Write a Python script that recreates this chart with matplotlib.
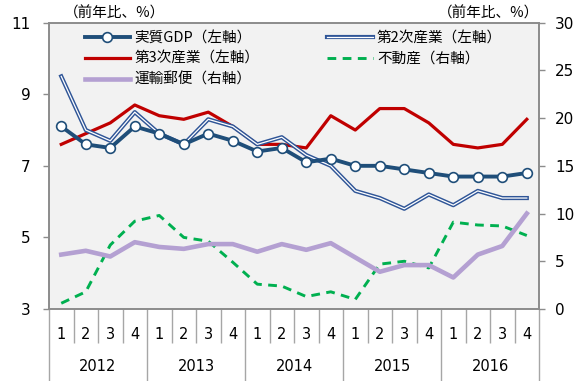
import matplotlib
matplotlib.use("Agg")
import matplotlib.pyplot as plt
import matplotlib.patheffects as pe

plt.rcParams['font.family'] = ['DejaVu Sans', 'Noto Sans CJK JP']
jp = ['Noto Sans CJK JP', 'DejaVu Sans']

years = ['2012', '2013', '2014', '2015', '2016']
quarters = ['1', '2', '3', '4']

# 左軸（前年比、%）
gdp = [8.1, 7.6, 7.5, 8.1, 7.9, 7.6, 7.9, 7.7, 7.4, 7.5,
       7.1, 7.2, 7.0, 7.0, 6.9, 6.8, 6.7, 6.7, 6.7, 6.8]
daini = [9.5, 8.0, 7.7, 8.5, 7.9, 7.6, 8.3, 8.1, 7.6, 7.8,
         7.3, 7.0, 6.3, 6.1, 5.8, 6.2, 5.9, 6.3, 6.1, 6.1]
daisan = [7.6, 7.9, 8.2, 8.7, 8.4, 8.3, 8.5, 8.1, 7.6, 7.6,
          7.5, 8.4, 8.0, 8.6, 8.6, 8.2, 7.6, 7.5, 7.6, 8.3]
# 右軸（前年比、%）
fudousan = [0.6, 1.8, 6.7, 9.2, 9.8, 7.5, 7.1, 4.9, 2.6, 2.4,
            1.3, 1.8, 1.0, 4.7, 5.0, 4.3, 9.1, 8.8, 8.7, 7.7]
unyu = [5.7, 6.1, 5.5, 7.0, 6.5, 6.3, 6.8, 6.8, 6.0, 6.8,
        6.2, 6.9, 5.4, 3.9, 4.6, 4.6, 3.3, 5.7, 6.6, 10.0]

n = len(gdp)
x = list(range(n))

fig = plt.figure(figsize=(5.82, 3.81), dpi=100)
ax = fig.add_axes([0.0842, 0.189, 0.8420, 0.7515])
ax2 = ax.twinx()

ax.set_facecolor('#f2f2f2')
ax2.patch.set_visible(False)

l_gdp, = ax.plot(x, gdp, color='#1f4e79', lw=2.8, marker='o', ms=7,
                 mfc='white', mec='#1f4e79', mew=1.2, label='実質GDP（左軸）', zorder=5)
l_2, = ax.plot(x, daini, color='white', lw=0.9, label='第2次産業（左軸）', zorder=4,
               path_effects=[pe.Stroke(linewidth=3.0, foreground='#2f5597'), pe.Normal()])
l_3, = ax.plot(x, daisan, color='#c00000', lw=2.3, label='第3次産業（左軸）', zorder=3)

l_f, = ax2.plot(x, fudousan, color='#00b050', lw=2.1, ls=(0, (3, 2.2)), label='不動産（右軸）')
l_u, = ax2.plot(x, unyu, color='#b4a0d2', lw=3.3, label='運輸郵便（右軸）')

ax.set_xlim(-0.5, n - 0.5)
ax.set_ylim(3, 11)
ax.set_yticks([3, 5, 7, 9, 11])
ax2.set_ylim(0, 30)
ax2.set_yticks(range(0, 31, 5))

for a in (ax, ax2):
    for s in a.spines.values():
        s.set_color('#8c8c8c')
        s.set_linewidth(1.2)

ax.tick_params(axis='y', direction='out', length=4.5, width=1, color='#8c8c8c',
               labelsize=11, pad=9)
ax2.tick_params(axis='y', direction='out', length=4.5, width=1, color='#8c8c8c',
                labelsize=11, pad=7)

# 四半期・年の区切り線
year_edges = [i * 4 - 0.5 for i in range(len(years) + 1)]
q_edges = [i - 0.5 for i in range(n + 1) if i % 4 != 0]
ax.set_xticks(year_edges)
ax.set_xticks(q_edges, minor=True)
ax.tick_params(axis='x', which='major', direction='out', length=52, width=1,
               color='#a6a6a6', labelbottom=False)
ax.tick_params(axis='x', which='minor', direction='out', length=24.5, width=1,
               color='#a6a6a6', labelbottom=False)

tr = ax.get_xaxis_transform()
for i in range(n):
    ax.text(i, -0.09, quarters[i % 4], transform=tr, ha='center', va='center',
            fontsize=10.5, clip_on=False)
for j, yr in enumerate(years):
    ax.text(j * 4 + 1.5, -0.2, yr, transform=tr, ha='center', va='center',
            fontsize=10.5, clip_on=False)

fig.text(115 / 582, 1 - 13 / 381, '（前年比、%）', ha='center', va='center',
         fontsize=10.5, family=jp)
fig.text(489 / 582, 1 - 13 / 381, '（前年比、%）', ha='center', va='center',
         fontsize=10.5, family=jp)

leg_kw = dict(frameon=False, borderpad=0, borderaxespad=0, handlelength=3.1,
              handletextpad=0.3, labelspacing=0.45, loc='upper left',
              prop={'family': jp, 'size': 10.5})
leg1 = ax2.legend([l_gdp, l_3, l_u], [h.get_label() for h in (l_gdp, l_3, l_u)],
                  bbox_to_anchor=(0.073, 0.97), **leg_kw)
ax2.add_artist(leg1)
ax2.legend([l_2, l_f], [h.get_label() for h in (l_2, l_f)],
           bbox_to_anchor=(0.568, 0.97), **leg_kw)

fig.savefig('out.png', dpi=100)
